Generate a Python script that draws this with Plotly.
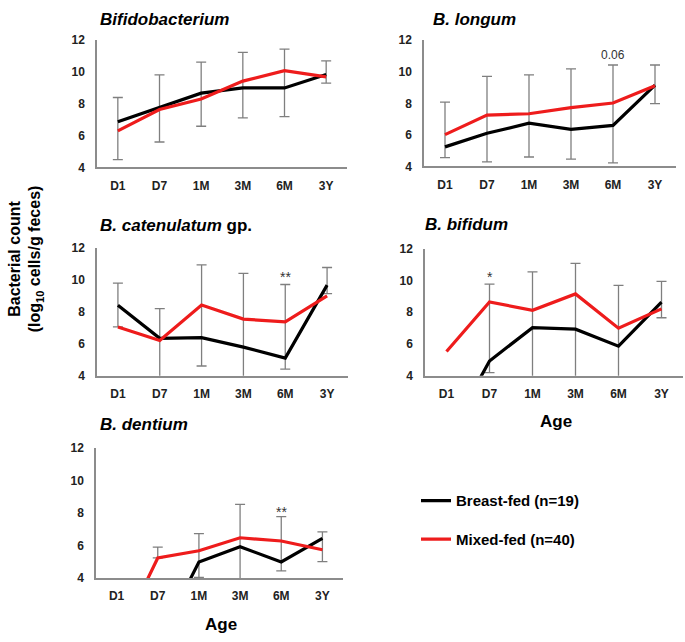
import plotly.graph_objects as go

categories = ["D1", "D7", "1M", "3M", "6M", "3Y"]

bifido_breast = [6.88, 7.78, 8.67, 9.00, 9.00, 9.84]
bifido_mixed = [6.30, 7.64, 8.30, 9.43, 10.09, 9.70]
bifido_err_hi = [8.40, 9.82, 10.62, 11.24, 11.44, 10.70]
bifido_err_lo = [4.49, 5.60, 6.59, 7.12, 7.19, 9.30]

longum_breast = [5.24, 6.10, 6.74, 6.35, 6.60, 9.15]
longum_mixed = [6.02, 7.26, 7.34, 7.73, 8.02, 9.12]
longum_err_hi = [8.08, 9.71, 9.81, 10.19, 10.43, 10.43]
longum_err_lo = [4.56, 4.29, 4.60, 4.47, 4.23, 7.98]

catenulatum_breast = [8.40, 6.34, 6.38, 5.79, 5.10, 9.66]
catenulatum_mixed = [7.05, 6.20, 8.42, 7.54, 7.36, 8.99]
catenulatum_err_hi = [9.78, 8.19, 10.92, 10.39, 9.70, 10.76]
catenulatum_err_lo = [7.05, 3.00, 4.61, 3.00, 4.41, 9.13]

bifidum_breast = [0.0, 4.93, 7.03, 6.93, 5.86, 8.64]
bifidum_mixed = [5.53, 8.64, 8.12, 9.15, 6.99, 8.21]
bifidum_err_hi = [None, 9.77, 10.54, 11.07, 9.69, 9.94]
bifidum_err_lo = [None, 4.20, 3.00, 3.00, 3.00, 7.65]

dentium_breast = [0.0, 0.0, 5.00, 5.94, 5.00, 6.45]
dentium_mixed = [0.0, 5.25, 5.69, 6.49, 6.29, 5.75]
dentium_err_hi = [None, 5.92, 6.75, 8.55, 7.79, 6.85]
dentium_err_lo = [None, 5.25, 4.06, 3.00, 4.46, 5.02]

y_ticks = [4, 6, 8, 10, 12]

panels = [
    ("<b><i>Bifidobacterium</i></b>", bifido_breast, bifido_mixed, bifido_err_hi, bifido_err_lo,
     [97, 347], [34, 164], [("*", "6M", 12.25)]),
    ("<b><i>B. longum</i></b>", longum_breast, longum_mixed, longum_err_hi, longum_err_lo,
     [424, 676], [34, 163], [("0.06", "6M", 11.07)]),
    ("<b><i>B. catenulatum</i> gp.</b>", catenulatum_breast, catenulatum_mixed, catenulatum_err_hi,
     catenulatum_err_lo, [97, 348], [246, 377], [("**", "6M", 10.15)]),
    ("<b><i>B. bifidum</i></b>", bifidum_breast, bifidum_mixed, bifidum_err_hi, bifidum_err_lo,
     [425, 683], [247, 377], [("*", "D7", 10.2)]),
    ("<b><i>B. dentium</i></b>", dentium_breast, dentium_mixed, dentium_err_hi, dentium_err_lo,
     [96, 343], [451, 584], [("**", "6M", 8.05)]),
]

W, H = 685, 642
FONT = "Arial, 'Liberation Sans', sans-serif"
AXIS_COLOR = "#8c8c8c"
ERR_COLOR = "#7f7f7f"
BLACK = "#000000"
RED = "#ee1c1c"

fig = go.Figure()
annotations = []

title_pos = [(98, 13), (431, 13), (98, 223), (423, 222), (98, 427)]

for i, (title, breast, mixed, hi, lo, xpx, ypx, marks) in enumerate(panels):
    n = "" if i == 0 else str(i + 1)
    xa, ya = "x" + n, "y" + n
    mid = [None if h is None else (h + l) / 2 for h, l in zip(hi, lo)]
    half = [None if h is None else (h - l) / 2 for h, l in zip(hi, lo)]
    fig.add_trace(go.Scatter(
        x=categories, y=mid, mode="markers", xaxis=xa, yaxis=ya,
        marker=dict(size=1, opacity=0), showlegend=False, hoverinfo="skip",
        error_y=dict(type="data", symmetric=True, array=half, color=ERR_COLOR,
                     thickness=1.3, width=5),
    ))
    fig.add_trace(go.Scatter(
        x=categories, y=breast, mode="lines", xaxis=xa, yaxis=ya,
        line=dict(color=BLACK, width=3.2), name="Breast-fed (n=19)",
        legendgroup="breast", showlegend=(i == 0),
    ))
    fig.add_trace(go.Scatter(
        x=categories, y=mixed, mode="lines", xaxis=xa, yaxis=ya,
        line=dict(color=RED, width=3.2), name="Mixed-fed (n=40)",
        legendgroup="mixed", showlegend=(i == 0),
    ))
    axis_common = dict(showgrid=False, zeroline=False, showline=True, linecolor=AXIS_COLOR,
                       linewidth=1.5, ticks="",
                       tickfont=dict(family=FONT, size=12, color="#222222", weight="bold"))
    fig.layout["xaxis" + n] = dict(
        domain=[xpx[0] / W, xpx[1] / W], anchor=ya, type="category",
        categoryorder="array", categoryarray=categories, range=[-0.5, 5.5],
        ticklabelstandoff=6, **axis_common)
    fig.layout["yaxis" + n] = dict(
        domain=[1 - ypx[1] / H, 1 - ypx[0] / H], anchor=xa, range=[4, 12],
        tickvals=y_ticks, ticklabelstandoff=8, **axis_common)
    tx, ty = title_pos[i]
    annotations.append(dict(
        text=title, x=tx / W, y=1 - ty / H, xref="paper", yref="paper",
        xanchor="left", yanchor="middle", showarrow=False,
        font=dict(family=FONT, size=17, color="#000000")))
    for txt, cat, yv in marks:
        is_num = txt[0].isdigit()
        annotations.append(dict(
            text=txt, x=cat, y=yv, xref=xa, yref=ya, showarrow=False,
            xanchor="center", yanchor="middle",
            font=dict(family=FONT, size=12 if is_num else 14, color="#333333")))

annotations.append(dict(
    text="<b>Bacterial count<br>(log<sub>10</sub> cells/g feces)</b>",
    x=26 / W, y=1 - 258 / H, xref="paper", yref="paper", textangle=-90,
    showarrow=False, xanchor="center", yanchor="middle",
    font=dict(family=FONT, size=16, color="#000000")))
annotations.append(dict(
    text="<b>Age</b>", x=556 / W, y=1 - 424 / H, xref="paper", yref="paper",
    showarrow=False, xanchor="center", yanchor="middle",
    font=dict(family=FONT, size=17, color="#000000")))
annotations.append(dict(
    text="<b>Age</b>", x=221 / W, y=1 - 631 / H, xref="paper", yref="paper",
    showarrow=False, xanchor="center", yanchor="middle",
    font=dict(family=FONT, size=17, color="#000000")))

fig.update_layout(
    width=W, height=H, margin=dict(l=0, r=0, t=0, b=0),
    paper_bgcolor="white", plot_bgcolor="white",
    annotations=annotations,
    legend=dict(x=416 / W, y=1 - 488 / H, xanchor="left", yanchor="top",
                font=dict(family=FONT, size=15, color="#000000", weight="bold"),
                tracegroupgap=16, bgcolor="rgba(0,0,0,0)"),
)

fig.write_html("out.html", config={"displayModeBar": False},
               post_script="document.body.style.margin='0';document.body.style.overflow='hidden';")
